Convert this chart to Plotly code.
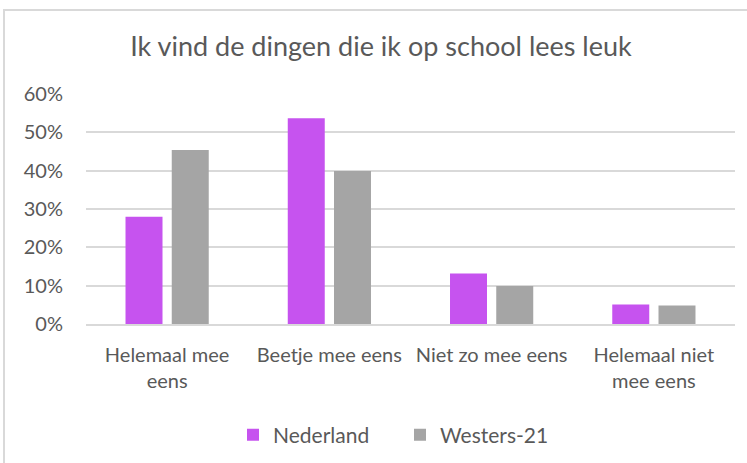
import plotly.graph_objects as go

categories = ["Helemaal mee<br>eens", "Beetje mee eens", "Niet zo mee eens", "Helemaal niet<br>mee eens"]
nederland = [0.28, 0.537, 0.132, 0.051]
westers21 = [0.454, 0.399, 0.099, 0.048]
series_names = ["Nederland", "Westers-21"]
y_ticks = [0, 0.1, 0.2, 0.3, 0.4, 0.5, 0.6]

FONT = "Lato"
TXT = "#595959"

fig = go.Figure()
fig.add_trace(go.Bar(x=categories, y=nederland, name=series_names[0],
                     marker=dict(color="#C653EF", line=dict(width=0))))
fig.add_trace(go.Bar(x=categories, y=westers21, name=series_names[1],
                     marker=dict(color="#A5A5A5", line=dict(width=0))))

W, H = 747, 463
ml, mr, mt, mb = 86, 12, 94, 139
pw = W - ml - mr
ph = H - mt - mb

def px_x(p):
    return (p - ml) / pw

def px_y(p):
    return (H - mb - p) / ph

fig.update_layout(
    width=W, height=H,
    margin=dict(l=ml, r=mr, t=mt, b=mb, autoexpand=False),
    paper_bgcolor="white", plot_bgcolor="white",
    barmode="group", bargap=0.43, bargroupgap=0.2,
    font=dict(family=FONT, color=TXT, size=18),
    title=dict(text="Ik vind de dingen die ik op school lees leuk",
               x=381 / W, xref="container", xanchor="center",
               y=1 - 47 / H, yref="container", yanchor="middle",
               font=dict(family=FONT, size=27, color=TXT)),
    legend=dict(orientation="h", x=400 / W, xref="container", xanchor="center",
                y=1 - 435 / H, yref="container", yanchor="middle",
                font=dict(family=FONT, size=21, color=TXT),
                entrywidth=122, entrywidthmode="pixels",
                traceorder="normal"),
    showlegend=True,
    shapes=[dict(type="rect", xref="paper", yref="paper",
                 x0=px_x(4), x1=px_x(760), y0=px_y(10), y1=px_y(480),
                 line=dict(color="#D9D9D9", width=2), fillcolor="rgba(0,0,0,0)",
                 layer="below")],
)
fig.update_yaxes(range=[0, 0.6], tickvals=y_ticks, tickformat=".0%",
                 showgrid=True, gridcolor="#D9D9D9", gridwidth=1.5,
                 zeroline=False, showline=False, ticks="", automargin=False,
                 ticklabelstandoff=22,
                 tickfont=dict(family=FONT, size=20, color=TXT))
fig.update_xaxes(showline=True, linecolor="#D9D9D9", linewidth=1.5,
                 ticks="", ticklabelstandoff=12, automargin=False,
                 tickfont=dict(family=FONT, size=20, color=TXT))

fig.write_html("out.html", config={"displayModeBar": False},
               post_script="document.body.style.margin='0';document.body.style.padding='0';")
